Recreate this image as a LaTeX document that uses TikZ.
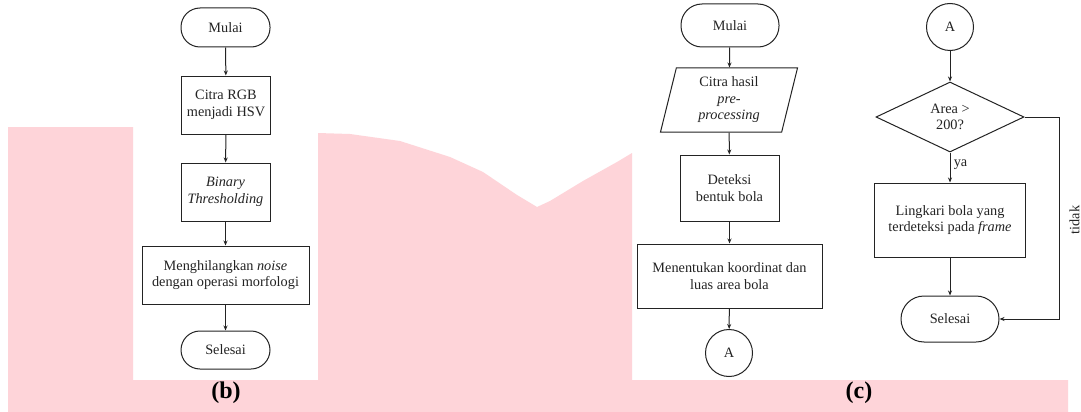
\documentclass[tikz,border=0pt]{standalone}
\usepackage{fontspec}
\setmainfont{Liberation Serif}
\usetikzlibrary{shapes.geometric,arrows.meta}
\definecolor{pinkbg}{RGB}{254,212,217}
\definecolor{ink}{RGB}{35,35,35}
\tikzset{
  base/.style={draw=ink, line width=1pt, text=ink, font=\fontsize{14.3}{16.5}\selectfont, align=center, inner sep=2pt},
  term/.style={base, rectangle, rounded corners=19pt, minimum width=89pt, minimum height=39pt},
  procbox/.style={base, rectangle, minimum height=58pt},
  conn/.style={base, circle, minimum size=47pt},
  iobox/.style={base, trapezium, trapezium left angle=71, trapezium right angle=109, trapezium stretches body, minimum width=137pt, minimum height=64pt, inner sep=0pt},
  decis/.style={base, diamond, minimum width=148pt, minimum height=70pt, inner sep=0pt},
  arr/.style={draw=ink, line width=1pt, -{Stealth[length=5pt,width=4pt]}},
  lbl/.style={text=ink, font=\fontsize{14.3}{16.5}\selectfont},
  panel/.style={font=\fontsize{24}{26}\selectfont\bfseries, text=black}
}
\begin{document}
\begin{tikzpicture}[x=1pt,y=-1pt]
\useasboundingbox (0,0) rectangle (1081,412);
\fill[white] (0,0) rectangle (1081,412);
% pink background shapes
\fill[pinkbg] (8,127) -- (133,127) -- (133,380) -- (318,380) -- (318,133)
  -- (350,134) -- (400,141) -- (450,157) -- (483,172) -- (517,195) -- (537,207)
  -- (550,201) -- (583,181) -- (617,162) -- (632,153) -- (632,380) -- (1068,380)
  -- (1068,412) -- (8,412) -- cycle;

% ---------- panel (b) ----------
\node[term] (b1) at (225.5,27.5) {Mulai};
\node[procbox, minimum width=89.5pt] (b2) at (226,105) {Citra RGB\\menjadi HSV};
\node[procbox, minimum width=89pt] (b3) at (225.5,192) {\textit{Binary}\\\textit{Thresholding}};
\node[procbox, minimum width=167pt] (b4) at (225.5,275) {Menghilangkan \textit{noise}\\dengan operasi morfologi};
\node[term, minimum height=38pt] (b5) at (225.5,350) {Selesai};
\node[panel] (lb) at (226,393) {(b)};
\draw[arr] (b1) -- (b2);
\draw[arr] (b2) -- (b3);
\draw[arr] (b3) -- (b4);
\draw[arr] (b4) -- (b5);

% ---------- panel (c), left column ----------
\node[term, minimum width=98pt, minimum height=43pt, rounded corners=21pt] (c1) at (730,25.5) {Mulai};
\node[iobox] (c2) at (729,100) {Citra hasil\\\textit{pre-}\\\textit{processing}};
\node[procbox, minimum width=99pt, minimum height=66pt] (c3) at (729.5,188) {Deteksi\\bentuk bola};
\node[procbox, minimum width=185pt, minimum height=64pt] (c4) at (729.5,276) {Menentukan koordinat dan\\luas area bola};
\node[conn] (c5) at (729,353) {A};
\node[panel] (lc) at (859,393) {(c)};
\draw[arr] (c1) -- (c2);
\draw[arr] (c2) -- (c3);
\draw[arr] (c3) -- (c4);
\draw[arr] (c4) -- (c5);

% ---------- panel (c), right column ----------
\node[conn] (d1) at (950,27) {A};
\node[decis] (d2) at (950,117) {Area >\\200?};
\node[procbox, minimum width=151.5pt, minimum height=74pt] (d3) at (950,220) {Lingkari bola yang\\terdeteksi pada \textit{frame}};
\node[term, minimum width=98pt, minimum height=46pt, rounded corners=23pt] (d4) at (950,319) {Selesai};
\coordinate (tk) at (1059,117);
\draw[arr] (d1) -- (d2);
\draw[arr] (d2) -- node[lbl, right, pos=0.4] {ya} (d3);
\draw[arr] (d3) -- (d4);
\draw[arr] (d2.east) -- (tk) |- (d4.east);
\node[lbl, rotate=90] (tidak) at (1074.5,220) {tidak};
\end{tikzpicture}
\end{document}
